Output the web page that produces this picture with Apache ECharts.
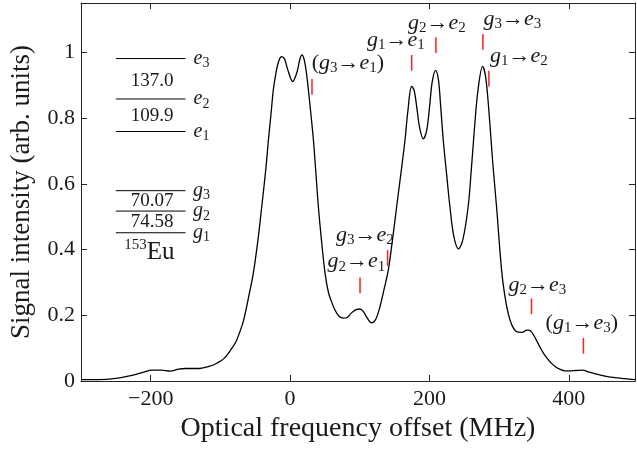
<!DOCTYPE html>
<html>
<head>
<meta charset="utf-8">
<script src="https://cdn.jsdelivr.net/npm/echarts@6/dist/echarts.min.js"></script>
<style>html,body{margin:0;padding:0;background:#fff}#c{width:637px;height:449px}</style>
</head>
<body>
<div id="c"></div>
<script>
// ---- data ----
const freq = [-300,-275,-250,-225,-210,-198,-185,-172,-160,-150,-130,-115,-105,-95,-86,-78,-72,-67,-60,-52.6,-46,-40.6,-35,-31,-27,-24,-20,-16,-12,-8,-3,3.8,10,14,16.8,20,23,26.3,30,33.5,37,40.6,45,50.2,55,59.7,64.5,70,76.4,82,88.5,95,100,105,110,117,123,129,135,141,147,153,159,165,169,174.5,178,182,186,191.2,196,200,204,208.9,213,216,219.8,224.6,229.4,235,241.8,248,255.6,260,265.2,270,276.3,281,286.7,291,296.3,303.5,308,313,318,325,333,340,345,352,358.4,365,372.8,380,387,395,401.4,410,420,428,440,452,463.5,480,495];
const signal = [0.004,0.004,0.008,0.018,0.027,0.033,0.033,0.030,0.036,0.038,0.038,0.045,0.054,0.068,0.092,0.118,0.150,0.182,0.250,0.330,0.430,0.531,0.640,0.734,0.820,0.886,0.940,0.975,0.987,0.980,0.945,0.911,0.940,0.978,0.992,0.980,0.945,0.886,0.810,0.734,0.635,0.531,0.430,0.328,0.270,0.240,0.216,0.198,0.191,0.193,0.208,0.217,0.219,0.212,0.194,0.177,0.188,0.226,0.280,0.338,0.430,0.531,0.630,0.734,0.820,0.896,0.885,0.830,0.770,0.737,0.762,0.830,0.910,0.945,0.915,0.840,0.734,0.630,0.531,0.440,0.402,0.430,0.531,0.640,0.784,0.890,0.957,0.920,0.784,0.660,0.531,0.338,0.262,0.206,0.172,0.150,0.148,0.155,0.153,0.130,0.104,0.080,0.059,0.045,0.036,0.031,0.031,0.032,0.033,0.028,0.021,0.015,0.011,0.007,0.004];

// transition markers (red ticks): frequency and lower end of tick
const markFreq = [31.5, 174.5, 209.3, 276.7, 285.3, 100.4, 140, 346.5, 421];
const markBase = [0.871, 0.944, 0.998, 1.008, 0.896, 0.267, 0.350, 0.203, 0.083];

// transition labels
const transLabels = ['(g3→e1)', 'g1→e1', 'g2→e2', 'g3→e3', 'g1→e2', 'g3→e2', 'g2→e1', 'g2→e3', '(g1→e3)'];
const transLabelX = [83, 152, 210.8, 319, 328.3, 107.5, 95.3, 354.8, 418.6];
const transLabelY = [0.968, 1.038, 1.090, 1.102, 0.989, 0.444, 0.363, 0.292, 0.177];

// energy level diagram
const levelNames = ['e3', 'e2', 'e1', 'g3', 'g2', 'g1'];
const levelY = [0.981, 0.858, 0.759, 0.579, 0.517, 0.451];
const levelSpan = [-250, -150];
const levelLabelX = -127;
const splitValues = ['137.0', '109.9', '70.07', '74.58'];
const splitY = [0.913, 0.805, 0.548, 0.484];
const splitX = -198;
const isotope = {mass: '153', symbol: 'Eu', x: -202, y: 0.392};

// axes
const xTicks = [-200, 0, 200, 400];
const yTicks = [0, 0.2, 0.4, 0.6, 0.8, 1];
const xRange = [-300, 495];
const yRange = [0, 1.15];

// ---- chart ----
const FONT = '"Liberation Serif", "Times New Roman", serif';
const TXT = '#1a1a1a';
const AX = '#262626';

function mathText(s) {
  let out = '';
  for (const ch of s) {
    if (/[a-z]/i.test(ch)) out += '{it|' + ch + '}';
    else if (/[0-9]/.test(ch)) out += '{sub|' + ch + '}';
    else out += '{rm|' + ch + '}';
  }
  return out;
}
function richSet(size, subSize) {
  return {
    it: {fontFamily: FONT, fontStyle: 'italic', fontSize: size, lineHeight: size + 4, color: TXT, verticalAlign: 'middle'},
    rm: {fontFamily: FONT, fontSize: size, lineHeight: size + 4, color: TXT, verticalAlign: 'middle'},
    sub: {fontFamily: FONT, fontSize: subSize, lineHeight: subSize, color: TXT, verticalAlign: 'bottom'},
    sup: {fontFamily: FONT, fontSize: subSize, lineHeight: subSize, color: TXT, verticalAlign: 'top'}
  };
}

const curve = freq.map((f, i) => [f, signal[i]]);
const marks = markFreq.map((f, i) => [f, markBase[i]]);
const transData = transLabels.map((t, i) => ({value: [transLabelX[i], transLabelY[i]], name: t}));
const levelLabelData = levelNames.map((n, i) => ({value: [levelLabelX, levelY[i]], name: n}));
const splitData = splitValues.map((v, i) => ({value: [splitX, splitY[i]], name: v}));

function textScatter(data, formatter, rich) {
  return {
    type: 'scatter', data: data, symbol: 'circle', symbolSize: 1,
    itemStyle: {color: 'rgba(0,0,0,0)', opacity: 1}, silent: true, z: 5,
    label: {show: true, position: 'inside', formatter: formatter, rich: rich, color: TXT, opacity: 1,
      textBorderWidth: 0}
  };
}

const axisCommon = {
  type: 'value',
  axisLine: {show: true, onZero: false, lineStyle: {color: AX, width: 1}},
  splitLine: {show: false}
};

const chart = echarts.init(document.getElementById('c'), null, {renderer: 'canvas'});
chart.setOption({
  animation: false,
  backgroundColor: '#fff',
  grid: {left: 81, right: 2, top: 3, bottom: 68, containLabel: false},
  xAxis: [
    Object.assign({}, axisCommon, {
      min: xRange[0], max: xRange[1], position: 'bottom',
      axisTick: {show: true, inside: true, length: 6, customValues: xTicks, lineStyle: {color: AX}},
      axisLabel: {show: true, customValues: xTicks, margin: 7, fontFamily: FONT, fontSize: 22, color: TXT,
        formatter: v => String(v).replace('-', '\u2212')},
      name: 'Optical frequency offset (MHz)', nameLocation: 'middle', nameGap: 32,
      nameTextStyle: {fontFamily: FONT, fontSize: 28, color: TXT}
    }),
    Object.assign({}, axisCommon, {
      min: xRange[0], max: xRange[1], position: 'top',
      axisTick: {show: true, inside: true, length: 6, customValues: xTicks, lineStyle: {color: AX}},
      axisLabel: {show: false}
    })
  ],
  yAxis: [
    Object.assign({}, axisCommon, {
      min: yRange[0], max: yRange[1], position: 'left',
      axisTick: {show: true, inside: true, length: 6, customValues: yTicks, lineStyle: {color: AX}},
      axisLabel: {show: true, customValues: yTicks, margin: 6, fontFamily: FONT, fontSize: 22, color: TXT,
        formatter: v => String(v)},
      name: 'Signal intensity (arb. units)', nameLocation: 'middle', nameGap: 46,
      nameTextStyle: {fontFamily: FONT, fontSize: 27, color: TXT}
    }),
    Object.assign({}, axisCommon, {
      min: yRange[0], max: yRange[1], position: 'right',
      axisTick: {show: true, inside: true, length: 6, customValues: yTicks, lineStyle: {color: AX}},
      axisLabel: {show: false}
    })
  ],
  series: [
    {
      type: 'line', data: curve, smooth: 0.35, symbol: 'none', z: 3,
      lineStyle: {color: '#000', width: 1.3}
    },
    {
      type: 'custom', data: marks, z: 4, silent: true,
      renderItem: (params, api) => {
        const p0 = api.coord([api.value(0), api.value(1)]);
        const p1 = api.coord([api.value(0), api.value(1) + 0.048]);
        return {type: 'line', shape: {x1: p0[0], y1: p0[1], x2: p1[0], y2: p1[1]},
          style: {stroke: '#ff2020', lineWidth: 1.5}};
      }
    },
    {
      type: 'custom', data: levelY.map(y => [levelSpan[0], y, levelSpan[1]]), z: 4, silent: true,
      renderItem: (params, api) => {
        const p0 = api.coord([api.value(0), api.value(1)]);
        const p1 = api.coord([api.value(2), api.value(1)]);
        return {type: 'line', shape: {x1: p0[0], y1: p0[1], x2: p1[0], y2: p1[1]},
          style: {stroke: '#000', lineWidth: 1}};
      }
    },
    textScatter(transData, p => mathText(p.name), richSet(22, 15)),
    textScatter(levelLabelData, p => mathText(p.name), richSet(20, 14)),
    textScatter(splitData, p => '{rm|' + p.name + '}', richSet(19, 14)),
    textScatter([{value: [isotope.x, isotope.y], name: isotope.symbol}],
      p => '{sup|' + isotope.mass + '}{rm|' + isotope.symbol + '}', richSet(25, 15))
  ]
});
</script>
</body>
</html>
